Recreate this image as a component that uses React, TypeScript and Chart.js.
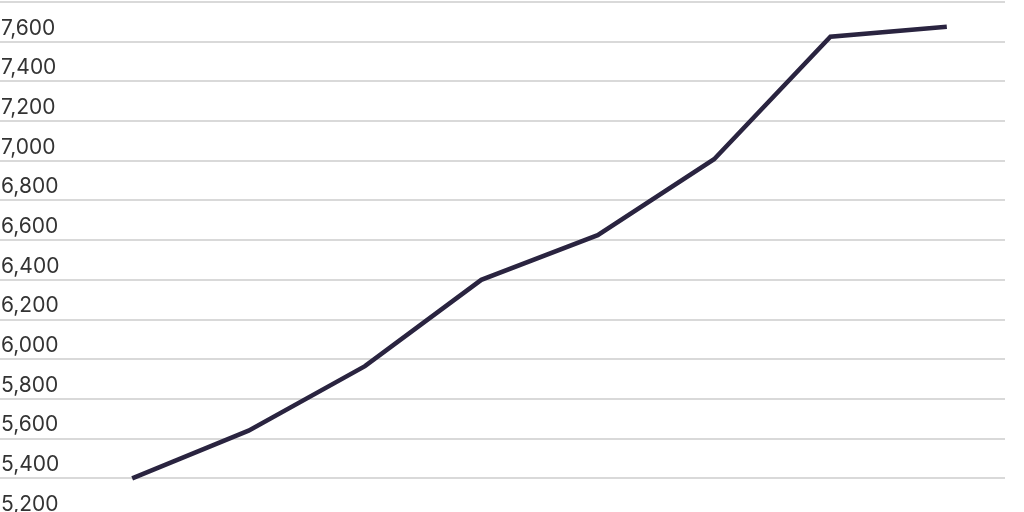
import React, { useEffect, useRef } from "react";
import { Chart, registerables } from "chart.js";

Chart.register(...registerables);

const categories: string[] = ["1", "2", "3", "4", "5", "6", "7", "8"];
const seriesValues: number[] = [5400, 5640, 5965, 6400, 6625, 7008, 7625, 7675];
const yMin = 5200;
const yMax = 7800;
const yStep = 200;

export default function App() {
  const ref = useRef<HTMLCanvasElement | null>(null);

  useEffect(() => {
    if (!ref.current) return;
    const chart = new Chart(ref.current, {
      type: "line",
      data: {
        labels: categories,
        datasets: [
          {
            data: seriesValues,
            borderColor: "#2a2440",
            borderWidth: 4.5,
            pointRadius: 0,
            tension: 0,
            fill: false,
            borderCapStyle: "butt",
            borderJoinStyle: "miter",
          },
        ],
      },
      options: {
        responsive: false,
        animation: false,
        devicePixelRatio: 1,
        layout: { padding: { top: 2, right: 19, bottom: 2, left: 0 } },
        plugins: { legend: { display: false }, tooltip: { enabled: false } },
        scales: {
          x: {
            type: "category",
            display: false,
            offset: true,
          },
          y: {
            min: yMin,
            max: yMax,
            border: { display: false },
            grid: {
              color: "#d9d9d9",
              lineWidth: 2,
              drawTicks: true,
              tickLength: 74,
            },
            ticks: {
              stepSize: yStep,
              autoSkip: false,
              mirror: true,
              crossAlign: "near",
              padding: -73,
              labelOffset: -13.5,
              color: "#333333",
              font: { family: "Inter, 'Liberation Sans', Arial, sans-serif", size: 21 },
              callback: (v: any) => Number(v).toLocaleString("en-US"),
            },
            afterFit: (scale: any) => {
              scale.width = 74;
              scale.paddingTop = 0;
              scale.paddingBottom = 0;
            },
          },
        },
      },
    });
    return () => chart.destroy();
  }, []);

  return (
    <div
      style={{
        position: "fixed",
        left: 0,
        top: 0,
        width: 1024,
        height: 512,
        overflow: "hidden",
        background: "#ffffff",
      }}
    >
      <canvas ref={ref} width={1024} height={520} style={{ display: "block" }} />
    </div>
  );
}
